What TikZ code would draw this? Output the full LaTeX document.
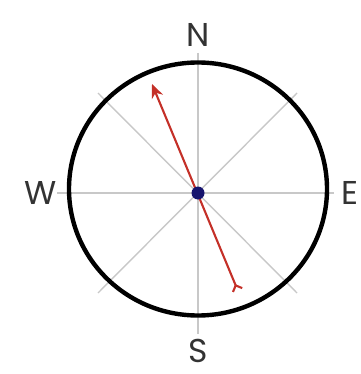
\documentclass[tikz,border=0pt]{standalone}
\usepackage{fontspec}
\setmainfont{Poppins}
\usetikzlibrary{arrows.meta}
\definecolor{needle}{RGB}{196,48,40}
\definecolor{pivot}{RGB}{22,20,110}
\definecolor{guide}{RGB}{200,200,200}
\tikzset{
  guideline/.style={draw=guide,line width=1.4pt},
  label/.style={font=\fontsize{33}{33}\selectfont,text=black!80,inner sep=0pt},
}
\begin{document}
\begin{tikzpicture}[x=1pt,y=-1pt]
\useasboundingbox (0,0) rectangle (360,374);
% guide lines
\draw[guideline] (57,193) -- (334,193);
\draw[guideline] (198,53) -- (198,334);
\draw[guideline] (98,93) -- (297,293);
\draw[guideline] (297,93) -- (98,293);
% outer ring
\draw[line width=4.4pt] (198,189) ellipse [x radius=129, y radius=126.5];
% needle
\coordinate (tail) at (238,291);
\coordinate (head) at (152,84);
\draw[needle,line width=2.1pt,{Straight Barb[reversed,length=5pt,width=10pt]}-{Stealth[length=14pt,width=12pt]}] (tail) -- (head);
\node[circle,fill=pivot,minimum size=13pt,inner sep=0pt] (dot) at (198,193) {};
% labels
\node[label] (N) at (198,35) {N};
\node[label] (S) at (198,351) {S};
\node[label] (W) at (41,193) {W};
\node[label] (E) at (350,193) {E};
\end{tikzpicture}
\end{document}
